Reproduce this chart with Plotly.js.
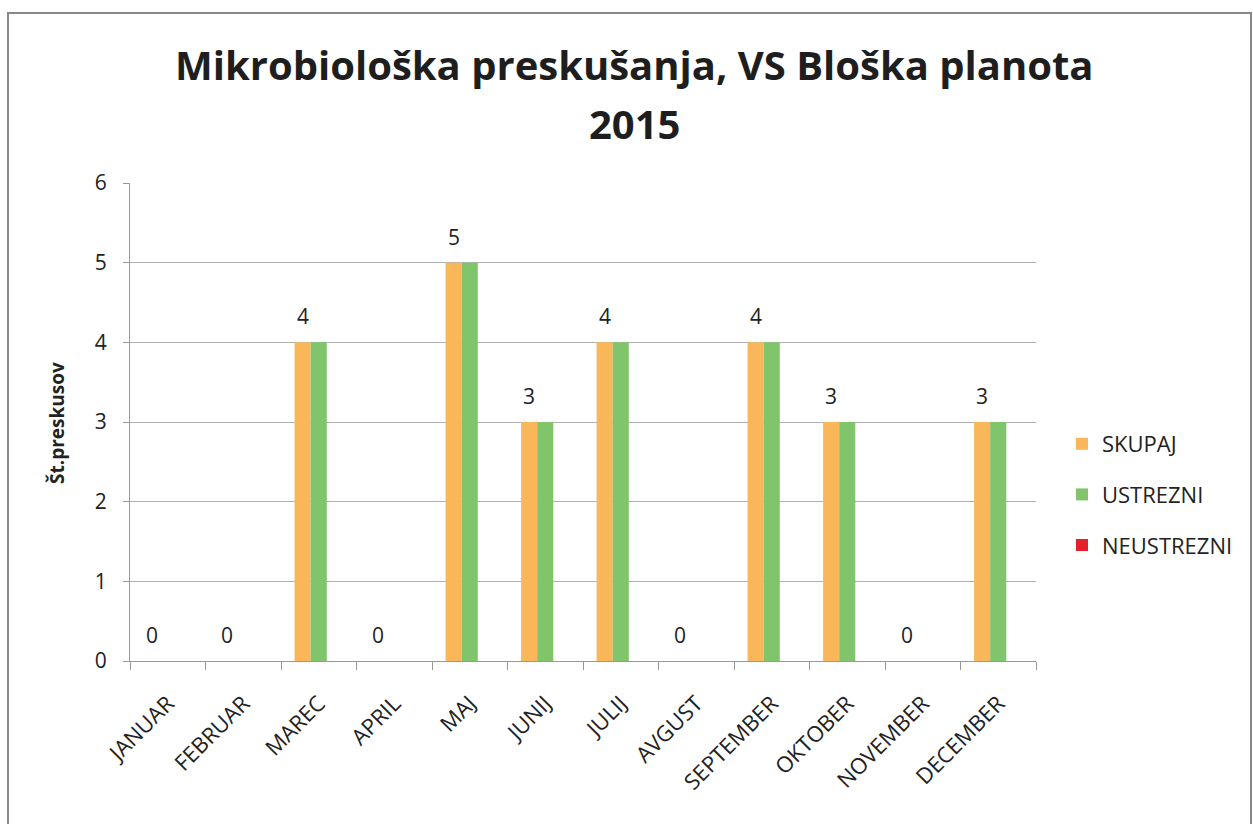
<!DOCTYPE html>
<html>
<head>
<meta charset="utf-8">
<script src="https://cdn.plot.ly/plotly-3.0.1.min.js"></script>
<style>html,body{margin:0;padding:0;background:#fff;}#chart{width:1253px;height:824px;}</style>
</head>
<body>
<div id="chart"></div>
<script>
const months = ["JANUAR","FEBRUAR","MAREC","APRIL","MAJ","JUNIJ","JULIJ","AVGUST","SEPTEMBER","OKTOBER","NOVEMBER","DECEMBER"];
const skupaj = [0,0,4,0,5,3,4,0,4,3,0,3];
const ustrezni = [0,0,4,0,5,3,4,0,4,3,0,3];
const neustrezni = [0,0,0,0,0,0,0,0,0,0,0,0];
const seriesNames = ["SKUPAJ","USTREZNI","NEUSTREZNI"];
const titleLines = ["Mikrobiološka preskušanja, VS Bloška planota", "2015"];
const yTitle = "Št.preskusov";

const font = "'Open Sans', 'Noto Sans', sans-serif";
const W = 1253, H = 824;
const L = 130, R = 1036, T = 183, B = 661;
const pw = R - L, ph = B - T;
const px = v => (v - L) / pw;
const py = v => (B - v) / ph;

const traces = [
  {type:"bar", x:months, y:skupaj, name:seriesNames[0], legendgroup:"a",
   marker:{color:"#FAB75A"}, hoverinfo:"none"},
  {type:"bar", x:months, y:ustrezni, name:seriesNames[1], legendgroup:"b",
   marker:{color:"#80C46C"}, hoverinfo:"none"},
  {type:"bar", x:months, y:neustrezni, name:seriesNames[2], legendgroup:"c",
   marker:{color:"#E3202C"}, hoverinfo:"none"}
];

const bargap = 0.36;
const barW = pw / months.length * (1 - bargap) / 3;
const annotations = skupaj.map((v, i) => ({
  x: months[i], y: v, xref:"x", yref:"y", text:String(v), showarrow:false,
  xshift: -barW, yshift: 26, yanchor:"middle", xanchor:"center",
  font:{size:21, family:font, color:"#222"}
}));
annotations.push(
  {x:px(634), y:py(65), xref:"paper", yref:"paper", text:titleLines[0], showarrow:false,
   xanchor:"center", yanchor:"middle", font:{size:40, family:font, color:"#1e1e1e", weight:"bold"}},
  {x:px(634), y:py(123), xref:"paper", yref:"paper", text:titleLines[1], showarrow:false,
   xanchor:"center", yanchor:"middle", font:{size:40, family:font, color:"#1e1e1e", weight:"bold"}},
  {x:px(57), y:py(423), xref:"paper", yref:"paper", text:yTitle, showarrow:false, textangle:-90,
   xanchor:"center", yanchor:"middle", font:{size:19, family:font, color:"#222", weight:"bold"}}
);

const layout = {
  width:W, height:H,
  margin:{l:L, r:W-R, t:T, b:H-B},
  paper_bgcolor:"#fff", plot_bgcolor:"#fff",
  font:{family:font, color:"#222"},
  barmode:"group", bargap:bargap, bargroupgap:0,
  xaxis:{type:"category", tickangle:-45, tickfont:{size:22, family:font, color:"#222"},
         ticks:"outside", ticklen:8, tickcolor:"#999", tickson:"boundaries",
         ticklabelstandoff:20,
         showline:true, linecolor:"#999", linewidth:1, showgrid:false},
  yaxis:{range:[0,6], dtick:1, tickfont:{size:21, family:font, color:"#222"},
         ticks:"outside", ticklen:6, tickcolor:"#999", ticklabelstandoff:12,
         showline:true, linecolor:"#999", gridcolor:"#b0b0b0", gridwidth:1,
         zeroline:false},
  legend:{x:px(1062), xanchor:"left", y:py(423), yanchor:"top", traceorder:"grouped",
          tracegroupgap:19, font:{size:22, family:font, color:"#222"}, itemwidth:30},
  showlegend:true,
  annotations:annotations,
  shapes:[{type:"rect", xref:"paper", yref:"paper",
           x0:px(8), x1:px(1251), y0:py(840), y1:py(13),
           line:{color:"#888", width:2}, fillcolor:"rgba(0,0,0,0)", layer:"below"}]
};
Plotly.newPlot("chart", traces, layout, {displayModeBar:false, staticPlot:true});
</script>
</body>
</html>
